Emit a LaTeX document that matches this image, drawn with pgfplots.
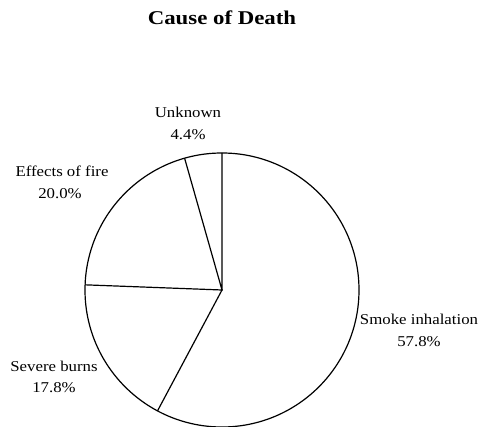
\documentclass[border=0pt]{standalone}
\usepackage{pgfplots}
\pgfplotsset{compat=1.18}
\usepackage{pgfplotstable}
\usepackage{fontspec}
\setmainfont{Liberation Serif}[FakeStretch=1.12]
\newfontfamily\titlefont{Liberation Serif}[FakeStretch=1.17]

% cumulative share (percent) at each slice boundary, r = 0 is the centre
% slices: Smoke inhalation 57.8, Severe burns 17.8, Effects of fire 20.0, Unknown 4.4
\pgfplotstableread{
cum r
0 0
0 1
0 0
57.8 1
0 0
75.6 1
0 0
95.6 1
}\spokes

\begin{document}
\begin{tikzpicture}
\begin{axis}[
  scale only axis, width=479bp, height=427bp,
  xmin=0, xmax=479, ymin=0, ymax=427,
  hide axis, clip=false,
]
\draw[line width=1.2bp, fill=white] (axis cs:222,137) circle [radius=137];
\addplot[line width=1.2bp, black, mark=none]
  table[x expr={222+137*\thisrow{r}*cos(90-3.6*\thisrow{cum})},
        y expr={137+137*\thisrow{r}*sin(90-3.6*\thisrow{cum})}] {\spokes};
\node[anchor=base, font=\titlefont\bfseries\fontsize{19.5bp}{22bp}\selectfont] at (axis cs:222,402) {Cause of Death};
\begin{scope}[every node/.style={anchor=base, font=\fontsize{15bp}{18bp}\selectfont, inner sep=0pt}]
\node at (axis cs:188,309) {Unknown};
\node at (axis cs:188,287) {4.4\%};
\node at (axis cs:62,250) {Effects of fire};
\node at (axis cs:60,228) {20.0\%};
\node at (axis cs:419,102) {Smoke inhalation};
\node at (axis cs:419,80) {57.8\%};
\node at (axis cs:54,55) {Severe burns};
\node at (axis cs:54,34) {17.8\%};
\end{scope}
\end{axis}
\pgfresetboundingbox
\path (current axis.south west) rectangle (current axis.north east);
\end{tikzpicture}
\end{document}
